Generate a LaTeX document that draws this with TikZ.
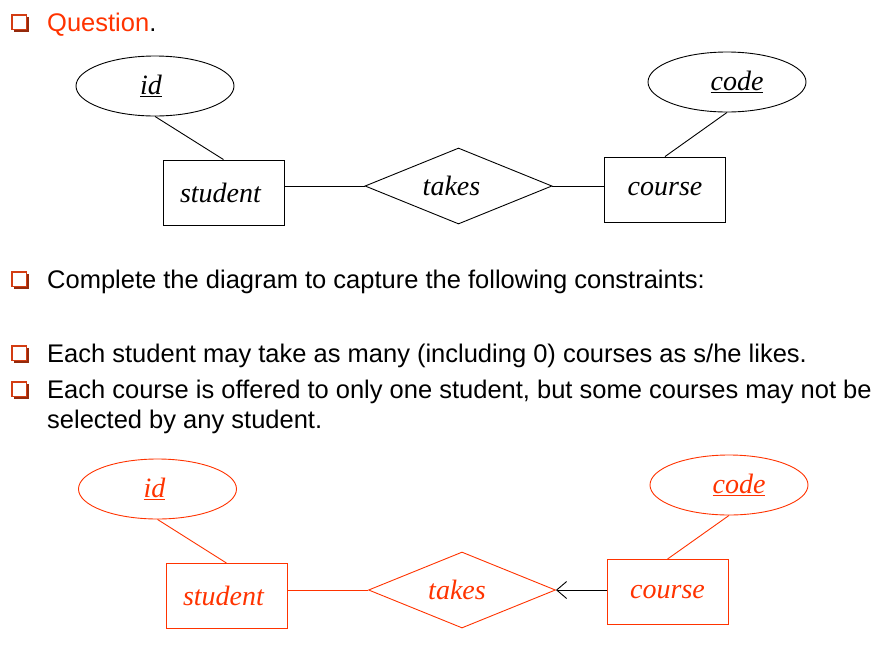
\documentclass[tikz,border=0pt]{standalone}
\usepackage{fontspec}
\setmainfont{Liberation Sans}
\newfontfamily\erfont{Liberation Serif}
\usetikzlibrary{shapes.geometric,arrows.meta}
\definecolor{qred}{HTML}{FF3300}
\definecolor{bulletred}{HTML}{D33C12}
\begin{document}
\begin{tikzpicture}[x=1pt,y=-1pt,
  txt/.style={anchor=base west,inner sep=0pt,font=\fontsize{25.5}{30}\selectfont},
  ent/.style={draw,line width=0.9pt,rectangle,minimum width=121pt,minimum height=65pt,inner sep=0pt,font=\erfont\itshape\fontsize{28}{30}\selectfont},
  attr/.style={draw,line width=0.9pt,ellipse,minimum width=158pt,minimum height=60pt,inner sep=0pt,font=\erfont\itshape\fontsize{28}{30}\selectfont},
  rel/.style={draw,line width=0.9pt,diamond,aspect=2.46,minimum width=187pt,minimum height=76pt,inner sep=0pt,font=\erfont\itshape\fontsize{28}{30}\selectfont},
  conn/.style={line width=0.9pt},
  red/.style={draw=qred,text=qred}
]
\useasboundingbox (0,0) rectangle (895,649);
% bullets
\newcommand{\qbullet}[2]{%
  \fill[bulletred!70!black] (#1+2.5,#2+2.5) rectangle (#1+18,#2+18);
  \filldraw[draw=bulletred,fill=white,line width=1.8pt] (#1+0.9,#2+0.9) rectangle (#1+15.5,#2+15.5);}
\qbullet{11}{14}
\qbullet{11}{271}
\qbullet{11}{345}
\qbullet{11}{381}
\node[txt] (q) at (47,31) {\textcolor{qred}{Question}.};
\node[txt] (t1) at (47,288) {Complete the diagram to capture the following constraints:};
\node[txt] (t2) at (47,362) {Each student may take as many (including 0) courses as s/he likes.};
\node[txt] (t3) at (47,398) {Each course is offered to only one student, but some courses may not be};
\node[txt] (t4) at (47,428) {selected by any student.};
% top diagram
\node[attr] (id1) at (155,86) {\hspace*{-8pt}\underline{id}};
\node[attr] (code1) at (727,82) {\hspace*{20pt}\underline{code}};
\node[ent] (st1) at (223.5,192.5) {\hspace*{-6pt}student};
\node[ent] (co1) at (665,189.5) {course};
\node[rel] (tk1) at (458.5,186) {\hspace*{-14pt}takes};
\draw[conn] (id1.south) -- (st1.north);
\draw[conn] (code1.south) -- (co1.north);
\draw[conn] (tk1.west -| st1.east) -- (tk1.west);
\draw[conn] (tk1.east -| co1.west) -- (tk1.east);
% bottom diagram
\node[attr,red] (id2) at (157.5,489) {\hspace*{-6pt}\underline{id}};
\node[attr,red] (code2) at (729,485) {\hspace*{20pt}\underline{code}};
\node[ent,red] (st2) at (226.5,596) {\hspace*{-6pt}student};
\node[ent,red] (co2) at (667.5,592) {course};
\node[rel,red] (tk2) at (462,590) {\hspace*{-10pt}takes};
\draw[conn,qred] (id2.south) -- (st2.north);
\draw[conn,qred] (code2.south) -- (co2.north);
\draw[conn,qred] (tk2.west -| st2.east) -- (tk2.west);
\draw[conn,-{Straight Barb[length=10pt,width=17pt,line width=0.9pt]}] (tk2.east -| co2.west) -- (tk2.east);
\end{tikzpicture}
\end{document}
